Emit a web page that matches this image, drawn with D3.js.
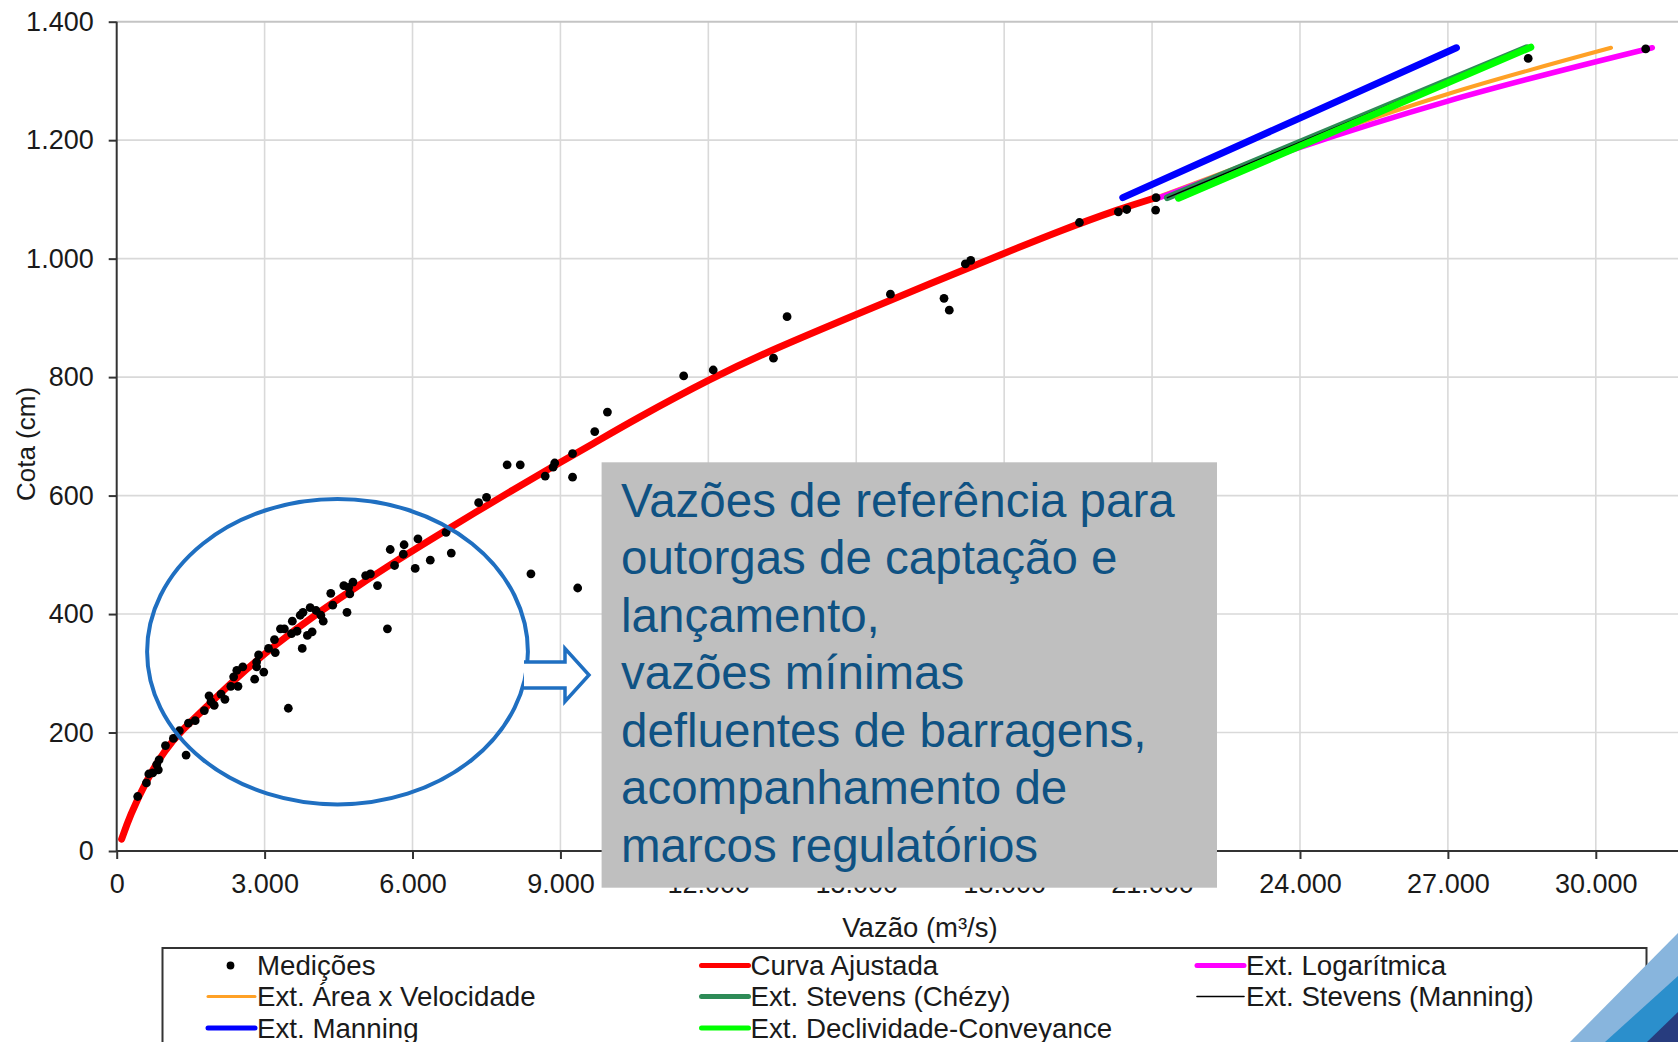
<!DOCTYPE html>
<html>
<head>
<meta charset="utf-8">
<script src="https://cdn.jsdelivr.net/npm/d3@7"></script>
<style>
  html, body { margin: 0; padding: 0; background: #fff; }
  svg { display: block; font-family: "Liberation Sans", Arial, sans-serif; }
</style>
</head>
<body>
<svg id="chart" width="1678" height="1042"></svg>
<script>
// ---------------- DATA ----------------
const xTicks = [0, 3000, 6000, 9000, 12000, 15000, 18000, 21000, 24000, 27000, 30000];
const yTicks = [0, 200, 400, 600, 800, 1000, 1200, 1400];

// Medições (vazão m³/s, cota cm)
const medQ = [426, 603, 651, 732, 812, 860, 844, 989, 1150, 1270, 1407, 1455, 1592, 1777, 1873, 1913, 1978,
  2115, 2195, 2315, 2372, 2436, 2460, 2557, 2798, 2838, 2878, 2838, 2983, 3079, 3200, 3216, 3321, 3401,
  3481, 3546, 3562, 3658, 3722, 3779, 3763, 3867, 3964, 3924, 4044, 4141, 4189, 4342, 4382, 4607, 4671,
  4728, 4792, 4704, 5049, 5146, 5290, 5491, 5548, 5636, 5813, 5829, 6054, 6110, 6360, 6681, 6786, 7341,
  7501, 7919, 8185, 8402, 8691, 8852, 8884, 9246, 9246, 9350, 9696, 9953, 11500, 12099, 13321, 13597,
  15693, 16780, 16887, 17213, 17322, 19527, 20316, 20486, 21081, 21072, 28629, 31012];
const medH = [92, 115, 130, 132, 146, 154, 137, 178, 190, 203, 162, 216, 220, 237, 262, 252, 246,
  265, 256, 278, 294, 305, 278, 311, 290, 319, 331, 311, 302, 342, 357, 335, 375, 375,
  241, 367, 388, 371, 398, 403, 342, 364, 370, 411, 406, 398, 388, 435, 415, 448, 403,
  434, 454, 445, 465, 468, 448, 375, 509, 482, 501, 517, 477, 527, 491, 538, 503, 588,
  597, 652, 652, 468, 633, 648, 655, 671, 631, 444, 708, 741, 802, 812, 832, 902,
  940, 933, 913, 991, 997, 1061, 1079, 1083, 1103, 1082, 1338, 1354];

// Curva Ajustada
const curveQ = [100, 265, 603, 989, 1311, 1793, 2436, 3240, 4044, 4848, 5652, 6456, 7260, 8064, 8868, 9672,
  10450, 12099, 13343, 15006, 16500, 17973, 19130, 20345, 21081];
const curveH = [20, 59, 120, 172, 203, 241, 293, 350, 400, 445, 489, 530, 571, 611, 650, 688,
  726, 800, 848, 906, 958, 1008, 1047, 1084, 1103];

// Extensões
const extAreaQ = [21150, 27000, 30309];            const extAreaH = [1105, 1278, 1356];
const extLogQ = [21150, 24000, 27000, 31146];      const extLogH = [1103, 1188, 1266, 1356];
const extStevManQ = [21311, 28600];                const extStevManH = [1103, 1356];
const extChezyQ = [21311, 28600];                  const extChezyH = [1103, 1356];
const extManningQ = [20406, 27173];                const extManningH = [1103, 1356];
const extDeclQ = [21535, 28682];                   const extDeclH = [1102, 1357];

const legendLabels = ["Medições", "Curva Ajustada", "Ext. Logarítmica",
  "Ext. Área x Velocidade", "Ext. Stevens (Chézy)", "Ext. Stevens (Manning)",
  "Ext. Manning", "Ext. Declividade-Conveyance"];

const noteLines = ["Vazões de referência para", "outorgas de captação e", "lançamento,",
  "vazões mínimas", "defluentes de barragens,", "acompanhamento de", "marcos regulatórios"];

// ---------------- CHART ----------------
const svg = d3.select("#chart");
const W = 1678, H = 1042;
const x = d3.scaleLinear().domain([0, 30000]).range([116.7, 1595.8]);
const y = d3.scaleLinear().domain([0, 1400]).range([851, 21.7]);
const loc = d3.formatLocale({decimal: ",", thousands: ".", grouping: [3], currency: ["", ""]});
const fmt = loc.format(",");

// grid
const grid = svg.append("g");
grid.selectAll("line.v").data(d3.range(3000, 36001, 3000)).join("line")
  .attr("x1", d => x(d)).attr("x2", d => x(d)).attr("y1", y(1400)).attr("y2", y(0))
  .attr("stroke", "#d9d9d9").attr("stroke-width", 1.6);
grid.selectAll("line.h").data(yTicks.filter(d => d > 0)).join("line")
  .attr("x1", x(0)).attr("x2", W).attr("y1", d => y(d)).attr("y2", d => y(d))
  .attr("stroke", d => d === 1400 ? "#c4c4c4" : "#d9d9d9").attr("stroke-width", d => d === 1400 ? 2 : 1.6);

// axes
const xAxis = svg.append("g").attr("transform", `translate(0,${y(0)})`)
  .call(d3.axisBottom(x).tickValues(xTicks).tickFormat(fmt).tickSize(8).tickSizeOuter(0).tickPadding(15));
const yAxis = svg.append("g").attr("transform", `translate(${x(0)},0)`)
  .call(d3.axisLeft(y).tickValues(yTicks).tickFormat(fmt).tickSize(8).tickSizeOuter(0).tickPadding(15));
[xAxis, yAxis].forEach(a => {
  a.select(".domain").remove();
  a.selectAll(".tick line").attr("stroke", "#333").attr("stroke-width", 2);
  a.selectAll(".tick text").attr("fill", "#1a1a1a").style("font-size", "27px")
    .style("font-family", "'Liberation Sans', Arial, sans-serif");
});
svg.append("line").attr("x1", x(0)).attr("x2", W).attr("y1", y(0)).attr("y2", y(0))
  .attr("stroke", "#333").attr("stroke-width", 2);
svg.append("line").attr("x1", x(0)).attr("x2", x(0)).attr("y1", y(1400)).attr("y2", y(0))
  .attr("stroke", "#333").attr("stroke-width", 2);

// axis titles
svg.append("text").attr("x", 920).attr("y", 937).attr("text-anchor", "middle")
  .style("font-size", "27.5px").attr("fill", "#1a1a1a").text("Vazão (m³/s)");
svg.append("text").attr("transform", "translate(35,444) rotate(-90)").attr("text-anchor", "middle")
  .style("font-size", "26px").attr("fill", "#1a1a1a").text("Cota (cm)");

// lines
const zip = (qs, hs) => qs.map((q, i) => [q, hs[i]]);
const line = d3.line().x(d => x(d[0])).y(d => y(d[1])).curve(d3.curveMonotoneX);
const smooth = d3.line().x(d => x(d[0])).y(d => y(d[1])).curve(d3.curveBasis);
const plot = svg.append("g");
plot.append("path").datum(zip(curveQ, curveH)).attr("d", smooth)
  .attr("fill", "none").attr("stroke", "#ff0000").attr("stroke-width", 7).attr("stroke-linecap", "round");
const exts = [
  [extAreaQ, extAreaH, "#ffa126", 4],
  [extLogQ, extLogH, "#ff00ff", 5.5],
  [extChezyQ, extChezyH, "#2e8b57", 7],
  [extStevManQ, extStevManH, "#000000", 1.5],
  [extManningQ, extManningH, "#0000ff", 7],
  [extDeclQ, extDeclH, "#00ff00", 7]
];
exts.forEach(([qs, hs, c, w]) => {
  plot.append("path").datum(zip(qs, hs)).attr("d", line)
    .attr("fill", "none").attr("stroke", c).attr("stroke-width", w).attr("stroke-linecap", "round");
});
plot.selectAll("circle").data(zip(medQ, medH)).join("circle")
  .attr("cx", d => x(d[0])).attr("cy", d => y(d[1])).attr("r", 4.4).attr("fill", "#000");

// annotation box
svg.append("rect").attr("x", 601.6).attr("y", 462.3).attr("width", 615.4).attr("height", 425.4)
  .attr("fill", "#bfbfbf");
svg.append("g").selectAll("text").data(noteLines).join("text")
  .attr("x", 621).attr("y", (d, i) => 516.7 + i * 57.5)
  .attr("fill", "#0f5283").style("font-size", "47.5px").text(d => d);

// ellipse and arrow
svg.append("ellipse").attr("cx", 337.5).attr("cy", 651.7).attr("rx", 190.4).attr("ry", 152.7)
  .attr("fill", "none").attr("stroke", "#1f6fc1").attr("stroke-width", 4);
svg.append("path").attr("d", "M524,662 H565 V648.5 L589,675 L565,701.5 V688 H524")
  .attr("fill", "#fff").attr("stroke", "#1f6fc1").attr("stroke-width", 3.5).attr("stroke-linejoin", "miter");

// legend
const lg = svg.append("g");
lg.append("rect").attr("x", 162.5).attr("y", 948).attr("width", 1484).attr("height", 140)
  .attr("fill", "#fff").attr("stroke", "#333").attr("stroke-width", 2);
const colX = [208, 701.5, 1197];
const rowY = [965.5, 996.5, 1028];
const legendItems = [
  {c: "#000", w: 0, dot: true},
  {c: "#ff0000", w: 5},
  {c: "#ff00ff", w: 5},
  {c: "#ffa126", w: 3},
  {c: "#2e8b57", w: 5},
  {c: "#000000", w: 1.6},
  {c: "#0000ff", w: 5},
  {c: "#00ff00", w: 5}
];
legendItems.forEach((it, i) => {
  const cx = colX[i % 3], cy = rowY[Math.floor(i / 3)];
  if (it.dot) {
    lg.append("circle").attr("cx", cx + 22.5).attr("cy", cy).attr("r", 3.9).attr("fill", "#000");
  } else {
    lg.append("line").attr("x1", cx).attr("x2", cx + 47).attr("y1", cy).attr("y2", cy)
      .attr("stroke", it.c).attr("stroke-width", it.w).attr("stroke-linecap", "round");
  }
  lg.append("text").attr("x", cx + 49).attr("y", cy + 9.5).style("font-size", "27.7px")
    .attr("fill", "#1a1a1a").text(legendLabels[i]);
});

// corner decoration
const deco = svg.append("g");
deco.append("polygon").attr("points", "1570,1042 1678,933 1678,1042").attr("fill", "#88b5dd");
deco.append("polygon").attr("points", "1605,1042 1678,976 1678,1042").attr("fill", "#2b8fcc");
deco.append("polygon").attr("points", "1647,1042 1678,1012 1678,1042").attr("fill", "#273c7e");
</script>
</body>
</html>
